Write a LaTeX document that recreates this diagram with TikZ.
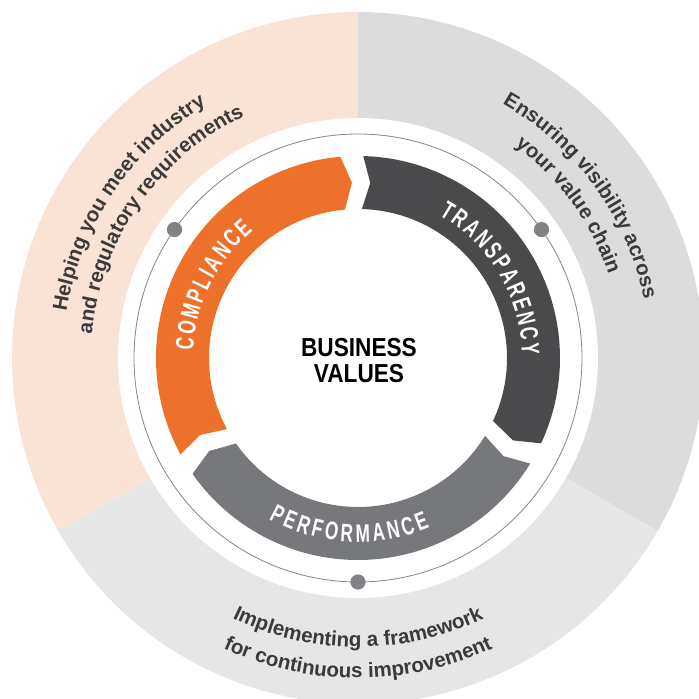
\documentclass[tikz,border=0pt]{standalone}
\usepackage{fontspec}
\setmainfont{Liberation Sans}
\newfontfamily\condfont{Liberation Sans}[FakeStretch=0.68]
\newfontfamily\headfont{Liberation Sans}[FakeStretch=0.87]
\usetikzlibrary{decorations.text}
\definecolor{peach}{HTML}{F9E3D7}
\definecolor{greyA}{HTML}{DCDCDC}
\definecolor{greyB}{HTML}{E6E6E6}
\definecolor{orng}{HTML}{EE712B}
\definecolor{darkc}{HTML}{4A4A4C}
\definecolor{midc}{HTML}{77787B}
\definecolor{dotc}{HTML}{808285}
\definecolor{linec}{HTML}{8A8A8A}
\definecolor{txt}{HTML}{3A3A3A}
\newcommand\outfont{\fontsize{14.6pt}{18pt}\selectfont\bfseries}
\newcommand\lblfont{\condfont\fontsize{18pt}{20pt}\selectfont\bfseries}
\begin{document}
\begin{tikzpicture}[x=.025cm, y=.025cm,
    dot/.style={circle, fill=dotc, inner sep=0pt, minimum size=.38cm},
    outtext/.style={decorate, decoration={text along path, text align=center, text color=txt, text={|\outfont|#1}}},
    lbltext/.style={decorate, decoration={text along path, text align=fit to path, text color=white, text={|\lblfont|#1}}}]
\clip (-358,-341) rectangle (341,358);
% outer ring
\fill[peach] (0,0)--(90:346) arc[start angle=90, end angle=210, radius=346]--cycle;
\fill[greyA] (0,0)--(-30:346) arc[start angle=-30, end angle=90, radius=346]--cycle;
\fill[greyB] (0,0)--(210:346) arc[start angle=210, end angle=330, radius=346]--cycle;
\fill[white] (0,0) circle[radius=240];
\draw[linec, line width=.6pt] (0,0) circle[radius=224];
% arrows
\foreach \s/\c in {208.5/orng, 88.5/darkc, -31.5/midc}
{
    \fill[\c] (\s:202) arc[start angle=\s, end angle=\s-113.5, radius=202]
        --({\s-116.5}:175.5)--({\s-113.5}:149)
        arc[start angle=\s-113.5, end angle=\s, radius=149]
        --({\s-2.5}:175.5)--cycle;
}
\node[dot] (d1) at (145:224) {};
\node[dot] (d2) at (35:224) {};
\node[dot] (d3) at (270:224) {};
\node[font=\headfont\fontsize{18.5pt}{18.5pt}\selectfont\bfseries, align=center] (bv) at (1,-3) {BUSINESS\\VALUES};
% labels on the arrows
\path[lbltext={COMPLIANCE}] (177.5:165) arc[start angle=177.5, end angle=129.5, radius=165];
\path[lbltext={TRANSPARENCY}] (60.5:164) arc[start angle=60.5, end angle=1, radius=164];
\path[lbltext={PERFORMANCE}] (241:184) arc[start angle=241, end angle=293, radius=184];
% outer texts
\path[outtext={Helping you meet industry}] (191:295) arc[start angle=191, end angle=101, radius=295];
\path[outtext={and regulatory requirements}] (190:267) arc[start angle=190, end angle=100, radius=267];
\path[outtext={Ensuring visibility across}] (81:292) arc[start angle=81, end angle=-9, radius=292];
\path[outtext={your value chain}] (81:264) arc[start angle=81, end angle=-9, radius=264];
\path[outtext={Implementing a framework}] (225:289) arc[start angle=225, end angle=315, radius=289];
\path[outtext={for continuous improvement}] (225:320) arc[start angle=225, end angle=315, radius=320];
\end{tikzpicture}
\end{document}
